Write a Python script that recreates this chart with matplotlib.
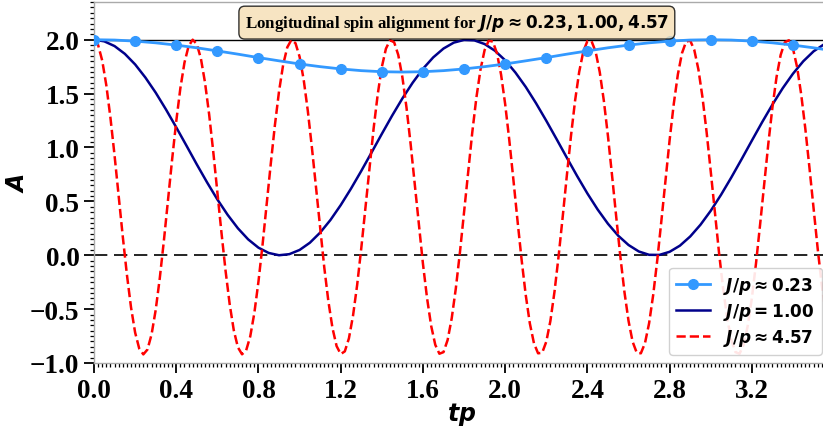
import numpy as np
import matplotlib
matplotlib.use("Agg")
import matplotlib.pyplot as plt
from matplotlib.ticker import MultipleLocator, FuncFormatter

# J/p ~ 0.23, sampled every 0.1 in tp (markers every 0.2)
t_slow = [0.0, 0.1, 0.2, 0.3, 0.4, 0.5, 0.6, 0.7, 0.8, 0.9,
          1.0, 1.1, 1.2, 1.3, 1.4, 1.5, 1.6, 1.7, 1.8, 1.9,
          2.0, 2.1, 2.2, 2.3, 2.4, 2.5, 2.6, 2.7, 2.8, 2.9,
          3.0, 3.1, 3.2, 3.3, 3.4, 3.5, 3.6]
a_slow = [2.000, 1.997, 1.987, 1.971, 1.950, 1.925, 1.896, 1.866, 1.834, 1.804,
          1.775, 1.750, 1.729, 1.713, 1.703, 1.700, 1.703, 1.713, 1.729, 1.750,
          1.775, 1.804, 1.834, 1.866, 1.896, 1.925, 1.950, 1.971, 1.987, 1.997,
          2.000, 1.997, 1.987, 1.971, 1.950, 1.925, 1.896]

# J/p = 1.00, sampled every 0.05 in tp
t_mid = [round(0.05 * i, 2) for i in range(73)]
a_mid = [2.000, 1.985, 1.941, 1.869, 1.771, 1.649, 1.509, 1.353, 1.187, 1.016,
         0.843, 0.676, 0.518, 0.375, 0.250, 0.147, 0.070, 0.021, 0.000, 0.010,
         0.049, 0.116, 0.210, 0.327, 0.465, 0.618, 0.782, 0.953, 1.126, 1.295,
         1.455, 1.601, 1.730, 1.836, 1.918, 1.973, 1.998, 1.994, 1.960, 1.898,
         1.809, 1.695, 1.562, 1.411, 1.248, 1.078, 0.905, 0.735, 0.573, 0.424,
         0.292, 0.181, 0.095, 0.035, 0.004, 0.003, 0.032, 0.089, 0.174, 0.283,
         0.413, 0.561, 0.722, 0.891, 1.064, 1.235, 1.398, 1.550, 1.685, 1.800,
         1.892, 1.956, 1.992]

# J/p ~ 4.57, sampled every 0.02 in tp
t_fast = [round(0.02 * i, 2) for i in range(179)]
a_fast = [2.000, 1.951, 1.806, 1.576, 1.275, 0.926, 0.550, 0.173, -0.179, -0.483,
          -0.717, -0.866, -0.920, -0.875, -0.735, -0.509, -0.212, 0.136, 0.512, 0.889,
          1.242, 1.549, 1.787, 1.940, 2.000, 1.960, 1.825, 1.602, 1.308, 0.962,
          0.587, 0.210, -0.145, -0.455, -0.697, -0.855, -0.919, -0.884, -0.753, -0.535,
          -0.244, 0.100, 0.474, 0.852, 1.209, 1.521, 1.767, 1.929, 1.998, 1.968,
          1.842, 1.628, 1.340, 0.998, 0.625, 0.247, -0.112, -0.427, -0.676, -0.843,
          -0.917, -0.892, -0.771, -0.560, -0.276, 0.064, 0.436, 0.815, 1.175, 1.492,
          1.746, 1.917, 1.996, 1.976, 1.859, 1.653, 1.371, 1.034, 0.663, 0.284,
          -0.078, -0.398, -0.655, -0.831, -0.914, -0.899, -0.787, -0.585, -0.307, 0.028,
          0.398, 0.777, 1.141, 1.463, 1.724, 1.904, 1.992, 1.982, 1.875, 1.677,
          1.402, 1.069, 0.701, 0.321, -0.043, -0.369, -0.633, -0.817, -0.910, -0.905,
          -0.802, -0.609, -0.337, -0.007, 0.360, 0.740, 1.106, 1.434, 1.701, 1.890,
          1.988, 1.987, 1.889, 1.700, 1.433, 1.105, 0.738, 0.359, -0.008, -0.339,
          -0.609, -0.803, -0.905, -0.910, -0.816, -0.632, -0.368, -0.042, 0.323, 0.702,
          1.071, 1.403, 1.678, 1.875, 1.982, 1.992, 1.904, 1.723, 1.462, 1.139,
          0.776, 0.397, 0.027, -0.308, -0.586, -0.787, -0.899, -0.914, -0.830, -0.654,
          -0.397, -0.077, 0.285, 0.665, 1.035, 1.373, 1.654, 1.859, 1.976, 1.995,
          1.917, 1.745, 1.491, 1.174, 0.813, 0.434, 0.063, -0.277, -0.561]

labels = [r'$\boldsymbol{J/p \approx 0.23}$',
          r'$\boldsymbol{J/p = 1.00}$',
          r'$\boldsymbol{J/p \approx 4.57}$']
title = r'Longitudinal spin alignment for $\boldsymbol{J/p \approx 0.23, 1.00, 4.57}$'

plt.rcParams['font.family'] = 'serif'
plt.rcParams['font.serif'] = ['Liberation Serif', 'DejaVu Serif']
plt.rcParams['font.weight'] = 'bold'
plt.rcParams['mathtext.fontset'] = 'dejavusans'

fig = plt.figure(figsize=(8.23, 4.27), dpi=100)
ax = fig.add_axes([94 / 823, 63 / 427, 736 / 823, 361 / 427])

ax.axhline(2.0, color='black', lw=1.0, zorder=1)
ax.axhline(0.0, color='black', lw=1.2, linestyle=(0, (8, 4)), zorder=1)

ax.plot(t_slow, a_slow, color='#3399ff', lw=2.0, marker='o', markersize=7,
        markevery=2, label=labels[0], zorder=3)
ax.plot(t_mid, a_mid, color='#00008b', lw=1.8, label=labels[1], zorder=2)
ax.plot(t_fast, a_fast, color='red', lw=1.8, linestyle='--', label=labels[2], zorder=2)

ax.set_xlim(0, 3.58)
ax.set_ylim(-1.0, 2.35)

fmt = FuncFormatter(lambda v, pos: f'{v:.1f}'.replace('-', '\u2212'))
ax.xaxis.set_major_locator(MultipleLocator(0.4))
ax.xaxis.set_minor_locator(MultipleLocator(0.02))
ax.yaxis.set_major_locator(MultipleLocator(0.5))
ax.yaxis.set_minor_locator(MultipleLocator(0.05))
ax.xaxis.set_major_formatter(fmt)
ax.yaxis.set_major_formatter(fmt)
ax.tick_params(which='major', length=7, width=1.3, labelsize=19.5, color='black')
ax.tick_params(which='minor', length=3, width=0.9, color='black')
for lab in ax.get_xticklabels() + ax.get_yticklabels():
    lab.set_fontweight('bold')

for sp in ax.spines.values():
    sp.set_color('#aaaaaa')
    sp.set_linewidth(1.0)

ax.set_xlabel(r'$\boldsymbol{tp}$', fontsize=17, labelpad=-2)
ax.set_ylabel(r'$\boldsymbol{A}$', fontsize=17, labelpad=1)

ax.text(0.493, 0.972, title, transform=ax.transAxes, ha='center', va='top',
        fontsize=12.2, fontweight='bold',
        bbox=dict(boxstyle='round,pad=0.35', facecolor='wheat', alpha=0.8))

ax.legend(loc='lower right', fontsize=12.2, framealpha=0.9,
          labelspacing=0.3, borderpad=0.4)

fig.savefig('out.png', dpi=100)
